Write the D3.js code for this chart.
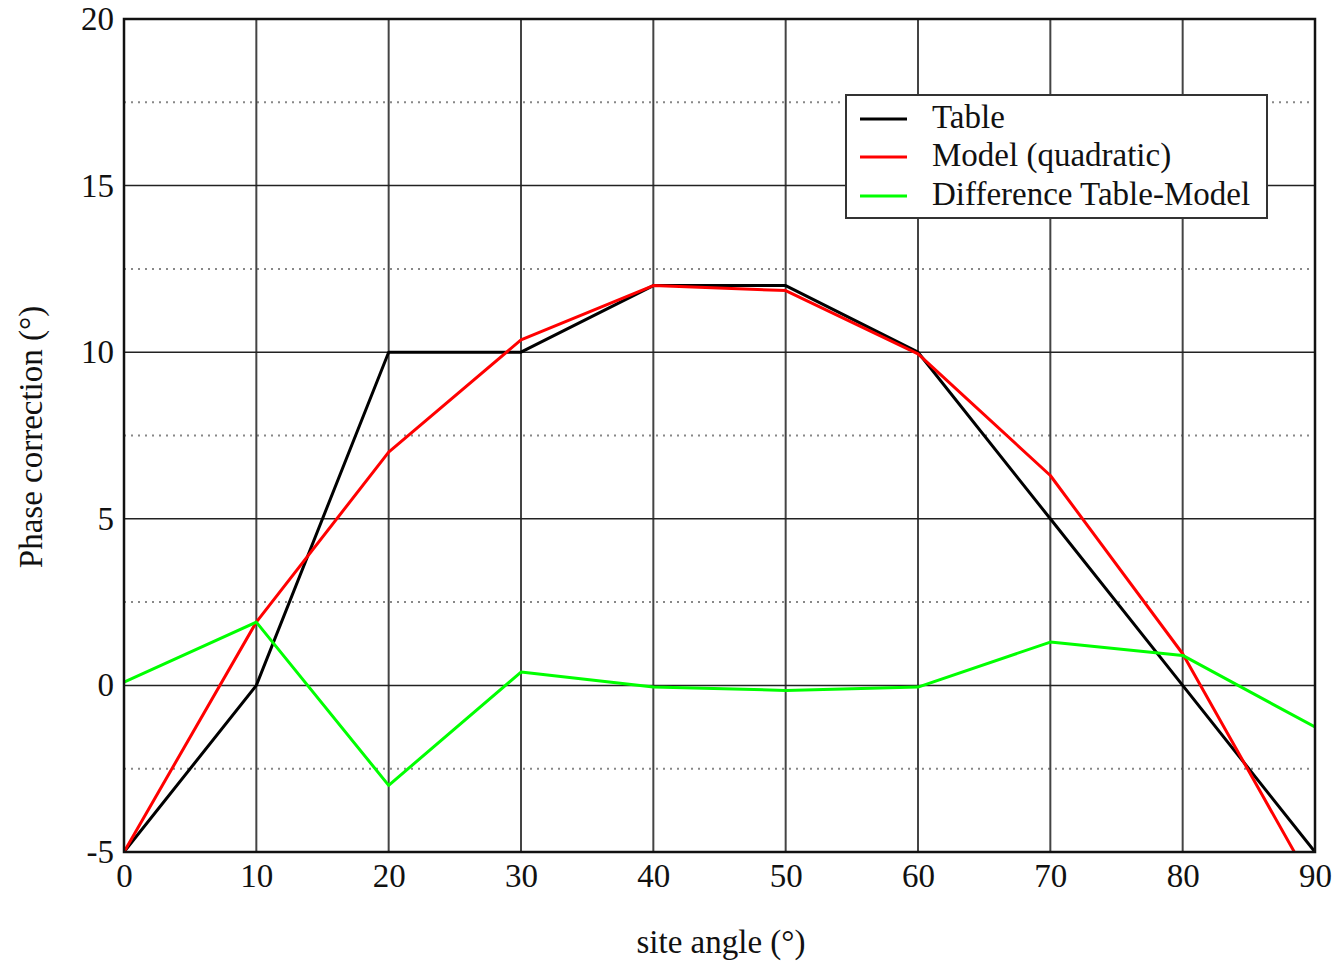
<!DOCTYPE html>
<html><head><meta charset="utf-8">
<script src="https://cdn.jsdelivr.net/npm/d3@7"></script>
<style>body{margin:0;background:#fff}svg{display:block}text{font-family:"Liberation Serif","Times New Roman",serif;fill:#111}</style>
</head><body><svg id="c" width="1336" height="966"></svg>
<script>
const angles = [0,10,20,30,40,50,60,70,80,90];
const tableVals = [-5,0,10,10,12,12,10,5,0,-5];
const modelVals = [-5,1.9,7.0,10.37,12.0,11.85,9.95,6.3,0.95,-6.1];
const diffVals = [0.1,1.9,-3.0,0.4,-0.05,-0.15,-0.05,1.3,0.9,-1.25];
const xTicks = [0,10,20,30,40,50,60,70,80,90];
const yTicks = [-5,0,5,10,15,20];
const yMinor = [-2.5,2.5,7.5,12.5,17.5];
const seriesNames = ["Table","Model (quadratic)","Difference Table-Model"];
const seriesColors = ["#000000","#ff0000","#00ff00"];

const svg = d3.select("#c");
const L=124,R=1315,T=19,B=852;
const x = d3.scaleLinear().domain([0,90]).range([L,R]);
const y = d3.scaleLinear().domain([-5,20]).range([B,T]);
const FS = 33;

svg.append("defs").append("clipPath").attr("id","clip").append("rect")
  .attr("x",L).attr("y",T).attr("width",R-L).attr("height",B-T);

// minor dotted grid
svg.append("g").selectAll("line").data(yMinor).join("line")
  .attr("x1",L).attr("x2",R).attr("y1",d=>y(d)).attr("y2",d=>y(d))
  .attr("stroke","#888").attr("stroke-width",2).attr("stroke-dasharray","2,5");
// major grid
svg.append("g").selectAll("line").data(xTicks.slice(1,-1)).join("line")
  .attr("x1",d=>x(d)).attr("x2",d=>x(d)).attr("y1",T).attr("y2",B)
  .attr("stroke","#444").attr("stroke-width",2);
svg.append("g").selectAll("line").data(yTicks.slice(1,-1)).join("line")
  .attr("x1",L).attr("x2",R).attr("y1",d=>y(d)).attr("y2",d=>y(d))
  .attr("stroke","#222").attr("stroke-width",1.5);

// axes labels
const fmt = d => String(d);
const xa = svg.append("g").attr("transform",`translate(0,${B})`)
  .call(d3.axisBottom(x).tickValues(xTicks).tickSize(0).tickPadding(12).tickFormat(fmt));
xa.select(".domain").remove();
xa.selectAll("text").attr("font-size",FS).attr("font-family","Liberation Serif").attr("fill","#111");
const ya = svg.append("g").attr("transform",`translate(${L},0)`)
  .call(d3.axisLeft(y).tickValues(yTicks).tickSize(0).tickPadding(10).tickFormat(fmt));
ya.select(".domain").remove();
ya.selectAll("text").attr("font-size",FS).attr("font-family","Liberation Serif").attr("fill","#111");

// lines
const line = d3.line().x((d,i)=>x(angles[i])).y(d=>y(d));
const g = svg.append("g").attr("clip-path","url(#clip)");
[tableVals,modelVals,diffVals].forEach((vals,k)=>{
  g.append("path").datum(vals).attr("d",line).attr("fill","none")
    .attr("stroke",seriesColors[k]).attr("stroke-width",3).attr("stroke-linejoin","round");
});

// frame
svg.append("rect").attr("x",L).attr("y",T).attr("width",R-L).attr("height",B-T)
  .attr("fill","none").attr("stroke","#111").attr("stroke-width",2.5);

// legend
const lg = svg.append("g");
lg.append("rect").attr("x",846).attr("y",95).attr("width",421).attr("height",123)
  .attr("fill","#fff").attr("stroke","#333").attr("stroke-width",2);
const rows=[119,157,196];
seriesNames.forEach((n,i)=>{
  lg.append("line").attr("x1",860).attr("x2",907).attr("y1",rows[i]).attr("y2",rows[i])
    .attr("stroke",seriesColors[i]).attr("stroke-width",3);
  lg.append("text").attr("x",932).attr("y",rows[i]+9).attr("font-size",FS).text(n);
});

svg.append("text").attr("x",721).attr("y",953).attr("text-anchor","middle")
  .attr("font-size",FS).text("site angle (°)");
svg.append("text").attr("transform",`translate(42,437) rotate(-90)`)
  .attr("text-anchor","middle").attr("font-size",FS).text("Phase correction (°)");
</script></body></html>
